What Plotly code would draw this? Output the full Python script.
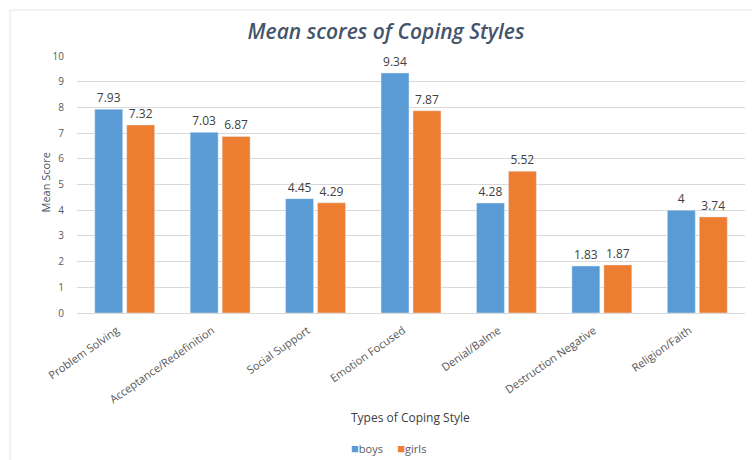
import plotly.graph_objects as go

categories = ["Problem Solving", "Acceptance/Redefinition", "Social Support", "Emotion Focused",
              "Denial/Balme", "Destruction Negative", "Religion/Faith"]
boys = [7.93, 7.03, 4.45, 9.34, 4.28, 1.83, 4]
girls = [7.32, 6.87, 4.29, 7.87, 5.52, 1.87, 3.74]
y_ticks = list(range(0, 11))

W, H = 752, 460
L, R, T, B = 77, 7, 56, 147
pw, ph = W - L - R, H - T - B

def px_x(x):
    return (x - L) / pw

def px_y(y):
    return (H - B - y) / ph

fig = go.Figure()
fig.add_trace(go.Bar(name="boys", x=categories, y=boys, marker_color="#5B9BD5",
                     text=[str(v) for v in boys], textposition="outside",
                     textfont=dict(size=12, color="#404040", family="Open Sans"),
                     cliponaxis=False))
fig.add_trace(go.Bar(name="girls", x=categories, y=girls, marker_color="#ED7D31",
                     text=[str(v) for v in girls], textposition="outside",
                     textfont=dict(size=12, color="#404040", family="Open Sans"),
                     cliponaxis=False))

fig.update_layout(
    width=W, height=H,
    margin=dict(l=L, r=R, t=T, b=B),
    paper_bgcolor="white", plot_bgcolor="white",
    barmode="group", bargap=0.33, bargroupgap=0.125,
    font=dict(family="Open Sans", color="#595959"),
    title=dict(text="Mean scores of Coping Styles", xref="container", x=386 / W, xanchor="center",
               y=1 - 32 / H, yanchor="middle",
               font=dict(size=21, color="#44546A", family="Open Sans", weight=600, style="italic")),
    showlegend=False,
    uniformtext=dict(minsize=8, mode="show"),
)
fig.update_yaxes(range=[0, 10], tickvals=y_ticks, showgrid=True, gridcolor="#D9D9D9",
                 zeroline=False, showline=False, tickfont=dict(size=10, color="#595959"),
                 ticks="", ticklabelstandoff=12)
fig.update_xaxes(tickangle=-35, tickfont=dict(size=11, color="#595959"), showline=True,
                 linecolor="#D9D9D9", ticks="", ticklabelshift=-8, ticklabelstandoff=6)

fig.add_annotation(text="Mean Score", xref="paper", yref="paper", x=px_x(35), y=px_y(183),
                   textangle=-90, showarrow=False, font=dict(size=11, color="#44546A"))
fig.add_annotation(text="Types of Coping Style", xref="paper", yref="paper", x=px_x(410),
                   y=px_y(417), yanchor="middle", showarrow=False,
                   font=dict(size=12, color="#404040"))
fig.add_annotation(
    text="<span style='color:#5B9BD5;font-size:13px'>■</span>boys&nbsp;&nbsp;&nbsp;&nbsp;&nbsp;<span style='color:#ED7D31;font-size:13px'>■</span>girls",
    xref="paper", yref="paper", x=px_x(388), y=px_y(448), yanchor="middle", showarrow=False,
    font=dict(size=11, color="#595959"))
fig.add_shape(type="rect", xref="paper", yref="paper", x0=px_x(10), x1=px_x(760),
              y0=px_y(470), y1=px_y(10), line=dict(color="#E6E6E6", width=1), layer="below")

fig.write_html("out.html")
